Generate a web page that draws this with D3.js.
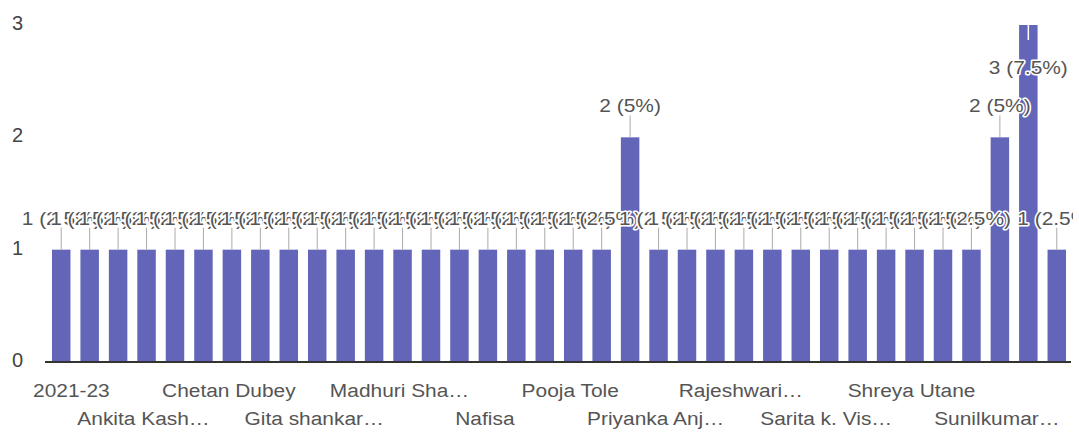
<!DOCTYPE html>
<html>
<head>
<meta charset="utf-8">
<script src="https://cdn.jsdelivr.net/npm/d3@7"></script>
<style>
  html, body { margin: 0; padding: 0; background: #fff; }
  svg { display: block; font-family: "Liberation Sans", Arial, sans-serif; }
</style>
</head>
<body>
<svg id="chart" width="1079" height="432"></svg>
<script>
// Responses per name (alphabetical order, as listed on the axis)
const categories = [
  "2021-23", "Aarti Patil", "Anil Jadhav", "Ankita Kash…", "Asha More", "Bhavana Kale",
  "Chetan Dubey", "Deepak Shinde", "Ganesh Pawar", "Gita shankar…", "Kavita Rao", "Komal Deshmukh",
  "Madhuri Sha…", "Manisha Joshi", "Meena Gaikwad", "Nafisa", "Neha Patil", "Pallavi Kulkarni",
  "Pooja Tole", "Prachi Sawant", "Pratiksha More", "Priyanka Anj…", "Rahul Wagh", "Rajesh Bhosale",
  "Rajeshwari…", "Rekha Naik", "Sandip Kamble", "Sarita k. Vis…", "Savita Jadhav", "Shital Mane",
  "Shreya Utane", "Snehal Patil", "Sonali Pawar", "Sunilkumar…", "Sunita Kale", "Vaishali Jadhav"
];
const counts = [
  1, 1, 1, 1, 1, 1,
  1, 1, 1, 1, 1, 1,
  1, 1, 1, 1, 1, 1,
  1, 1, 2, 1, 1, 1,
  1, 1, 1, 1, 1, 1,
  1, 1, 1, 2, 3, 1
];
const yTicks = [0, 1, 2, 3];
// every third name gets an axis label, alternating between two rows
const labelEvery = 3;

const total = d3.sum(counts);
const data = categories.map((c, i) => ({ name: c, value: counts[i], index: i }));

const svg = d3.select("#chart");
const stretch = 1.1;

const x = d3.scaleBand()
  .domain(categories)
  .range([47, 1071])
  .paddingInner(0.35)
  .paddingOuter(0.175);

const y = d3.scaleLinear()
  .domain([0, 3])
  .range([362, 25]);

// y axis labels
const yAxis = d3.axisLeft(y).tickValues(yTicks).tickSize(0).tickPadding(0).tickFormat(d3.format("d"));
const yg = svg.append("g").attr("transform", "translate(23,-2)").call(yAxis);
yg.select(".domain").remove();
yg.selectAll("text")
  .attr("font-size", 20)
  .attr("font-family", "Liberation Sans, Arial, sans-serif")
  .attr("fill", "#444");

// bars
svg.append("g")
  .selectAll("rect")
  .data(data)
  .join("rect")
  .attr("x", d => x(d.name))
  .attr("y", d => y(d.value))
  .attr("width", x.bandwidth())
  .attr("height", d => y(0) - y(d.value))
  .attr("fill", "#6366b8");

// baseline
const xAxis = d3.axisBottom(x).tickSize(0).tickFormat("");
const xg = svg.append("g").attr("transform", `translate(0,${y(0)})`).call(xAxis);
xg.select(".domain").attr("stroke", "#333").attr("stroke-width", 2).attr("d", "M45,0H1071");

// category labels, two staggered rows, centred under their bars
const labelled = data.filter(d => d.index % labelEvery === 0);
const lg = svg.append("g")
  .attr("font-size", 19)
  .attr("fill", "#555");
labelled.forEach((d, k) => {
  let cx = x(d.name) + x.bandwidth() / 2 - 3;
  const t = lg.append("text")
    .attr("text-anchor", "middle")
    .text(d.name);
  const half = t.node().getComputedTextLength() * stretch / 2;
  cx = Math.max(cx, 33 + half);
  const baseline = k % 2 === 0 ? 397 : 425;
  t.attr("transform", `translate(${cx},${baseline}) scale(${stretch},1)`);
});

// value annotations with stems
svg.append("defs").append("clipPath").attr("id", "plotClip")
  .append("rect").attr("x", 0).attr("y", 0).attr("width", 1073).attr("height", 432);

const ag = svg.append("g").attr("clip-path", "url(#plotClip)");
const fmtPct = v => `${+(v / total * 100).toFixed(1)}`;
data.forEach(d => {
  const cx = x(d.name) + x.bandwidth() / 2;
  const top = y(d.value);
  const inside = top - 44 < 0;
  const label = `${d.value} (${fmtPct(d.value)}%)`;
  if (inside) {
    ag.append("line")
      .attr("x1", cx).attr("x2", cx)
      .attr("y1", top).attr("y2", top + 15)
      .attr("stroke", "#fff").attr("stroke-width", 1.5);
  } else {
    ag.append("line")
      .attr("x1", cx).attr("x2", cx)
      .attr("y1", top - 22).attr("y2", top)
      .attr("stroke", "#aaa").attr("stroke-width", 1);
  }
  const baseline = inside ? top + 49 : top - 25;
  ag.append("text")
    .attr("text-anchor", "middle")
    .attr("transform", `translate(${cx},${baseline}) scale(${stretch},1)`)
    .attr("font-size", 19)
    .attr("fill", "#555")
    .attr("stroke", "#fff")
    .attr("stroke-width", 3)
    .attr("stroke-linejoin", "round")
    .attr("paint-order", "stroke")
    .text(label);
});
</script>
</body>
</html>
